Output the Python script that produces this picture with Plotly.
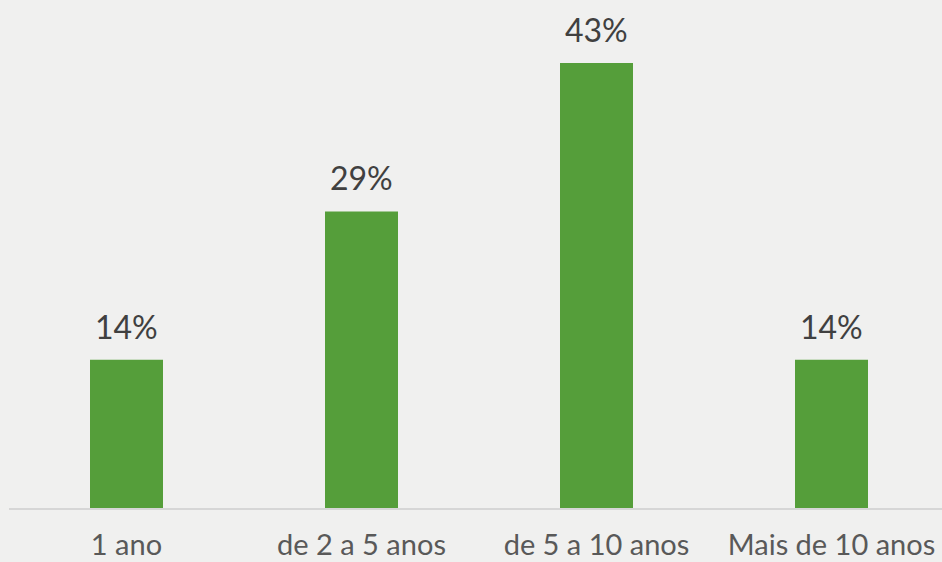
import plotly.graph_objects as go

categories = ["1 ano", "de 2 a 5 anos", "de 5 a 10 anos", "Mais de 10 anos"]
values = [14.29, 28.57, 42.86, 14.29]
labels = ["14%", "29%", "43%", "14%"]

W, H = 942, 562
ml, mr, mt, mb = 9, 0, 0, 54
plot_w = W - ml - mr
cat_px = 235.0
x_range = [-0.5, -0.5 + plot_w / cat_px]
px_per_unit = 10.38
y_range = [0, (H - mt - mb) / px_per_unit]

fig = go.Figure()
fig.add_trace(go.Bar(
    x=list(range(len(categories))), y=values,
    marker=dict(color="#559E3A", line=dict(width=0)),
    width=73 / cat_px,
    hoverinfo="skip",
))

for i, (v, t) in enumerate(zip(values, labels)):
    fig.add_annotation(x=i, y=v, text=t, showarrow=False, yanchor="bottom",
                       yshift=12, font=dict(family="Lato", size=32, color="#404040"))

fig.update_layout(
    width=W, height=H,
    margin=dict(l=ml, r=mr, t=mt, b=mb, pad=0, autoexpand=False),
    paper_bgcolor="#f0f0ef", plot_bgcolor="rgba(0,0,0,0)",
    showlegend=False,
    xaxis=dict(range=x_range, tickmode="array", tickvals=list(range(len(categories))),
               ticktext=categories, showgrid=False, zeroline=False, automargin=False,
               showline=True, linecolor="#d6d6d6", linewidth=1.5,
               ticks="outside", ticklen=10, tickcolor="rgba(0,0,0,0)",
               tickfont=dict(family="Lato", size=29, color="#595959"), fixedrange=True),
    yaxis=dict(range=y_range, visible=False, fixedrange=True, automargin=False),
)

fig.write_html("out.html", config={"displayModeBar": False},
               post_script="document.body.style.margin='0';document.body.style.background='#f0f0ef';")
